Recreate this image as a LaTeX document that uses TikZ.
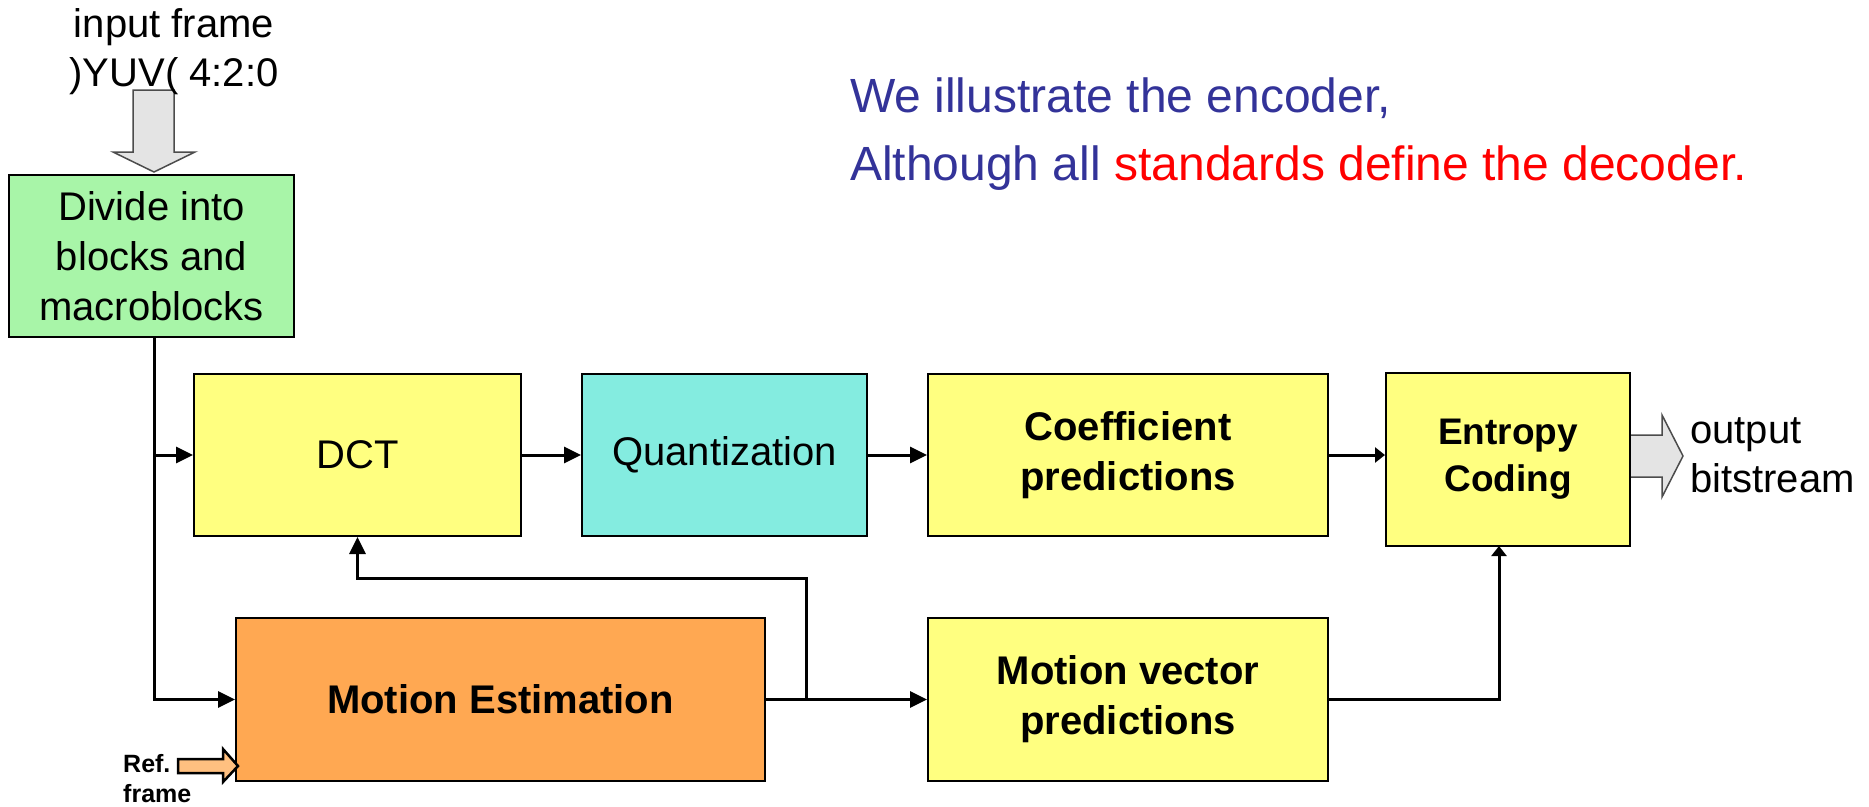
\documentclass[tikz,border=0pt]{standalone}
\usepackage{fontspec}
\setmainfont{Liberation Sans}
\usetikzlibrary{arrows.meta,calc}
\definecolor{boxgreen}{RGB}{168,245,168}
\definecolor{boxyellow}{RGB}{255,255,128}
\definecolor{boxcyan}{RGB}{132,236,224}
\definecolor{boxorange}{RGB}{255,168,82}
\definecolor{refarrow}{RGB}{255,192,128}
\definecolor{arrgray}{RGB}{228,228,228}
\definecolor{noteblue}{RGB}{51,51,153}
\definecolor{notered}{RGB}{255,0,0}
\begin{document}
\begin{tikzpicture}[x=1pt,y=-1pt,
  blk/.style={draw=black,line width=2pt,rectangle,inner sep=0pt,align=center,
    font=\fontsize{40}{50}\selectfont},
  bblk/.style={blk,font=\fontsize{40}{50}\selectfont\bfseries},
  conn/.style={line width=3pt,-{Triangle[length=17pt,width=16pt]}},
  sconn/.style={line width=3pt,-{Triangle[length=10pt,width=15pt]}},
  lbl/.style={inner sep=0pt,font=\fontsize{40}{49}\selectfont},
  blockarrow/.style={draw=black!70,line width=1.5pt,fill=arrgray},
]
\useasboundingbox (0,0) rectangle (1869,806);
\fill[white] (0,0) rectangle (1869,806);

% input block arrow
\draw[blockarrow] (133,90) -- (174,90) -- (174,152) -- (195,152) -- (154,172) -- (113,152) -- (133,152) -- cycle;
\node[lbl,anchor=base] (in1) at (174,37) {input frame};
\node[lbl,anchor=base] (in2) at (174,86) {)YUV( 4:2:0};

% note text
\node[inner sep=0pt,anchor=base west,font=\fontsize{48}{68}\selectfont,text=noteblue] (n1) at (850,112) {We illustrate the encoder,};
\node[inner sep=0pt,anchor=base west,font=\fontsize{48}{68}\selectfont,text=noteblue] (n2) at (850,180) {Although all \textcolor{notered}{standards define the decoder.}};

% boxes
\node[blk,fill=boxgreen,minimum width=285pt,minimum height=162pt] (div) at (151.5,256) {Divide into\\blocks and\\macroblocks};
\node[blk,fill=boxyellow,minimum width=327pt,minimum height=162pt] (dct) at (357.5,455) {DCT};
\node[blk,fill=boxcyan,minimum width=285pt,minimum height=162pt] (quant) at (724.5,455) {Quantization};
\node[bblk,fill=boxyellow,minimum width=400pt,minimum height=162pt] (coef) at (1128,455) {Coefficient\\predictions};
\node[bblk,fill=boxyellow,minimum width=244pt,minimum height=173pt,font=\fontsize{37}{47}\selectfont\bfseries] (ent) at (1508,459.5) {Entropy\\Coding};
\node[bblk,fill=boxorange,minimum width=529pt,minimum height=163pt] (me) at (500.5,699.5) {Motion Estimation};
\node[bblk,fill=boxyellow,minimum width=400pt,minimum height=163pt] (mv) at (1128,699.5) {Motion vector\\predictions};

% output block arrow
\draw[blockarrow] (1631,435) -- (1662,435) -- (1662,415) -- (1683,456) -- (1662,497) -- (1662,477) -- (1631,477);
\node[lbl,anchor=west,align=left] (out) at (1690,455) {output\\bitstream};

% ref frame arrow
\draw[line width=2.5pt,fill=refarrow] (178,759) -- (223,759) -- (223,749) -- (238,766) -- (223,782) -- (223,773) -- (178,773) -- cycle;
\node[inner sep=0pt,anchor=base west,font=\fontsize{25}{31}\selectfont\bfseries] (ref1) at (123,772) {Ref.};
\node[inner sep=0pt,anchor=base west,font=\fontsize{25}{31}\selectfont\bfseries] (ref2) at (123,802) {frame};

% connectors
\coordinate (j1) at (154,455);
\coordinate (fb) at (806,699.5);
\coordinate (fbt) at (806,578);
\coordinate (e1) at (1499,546);
\draw[line width=3pt] (div.south -| j1) -- (j1);
\draw[conn] (j1) -- (dct.west);
\draw[conn] (j1) |- (me.west);
\draw[conn] (dct.east) -- (quant.west);
\draw[conn] (quant.east) -- (coef.west);
\draw[sconn] (coef.east) -- (coef.east -| ent.west);
\draw[conn] (me.east) -- (mv.west);
\draw[conn] (fb) -- (fbt) -| (dct.south);
\draw[sconn] (mv.east) -| (e1);
\end{tikzpicture}
\end{document}
